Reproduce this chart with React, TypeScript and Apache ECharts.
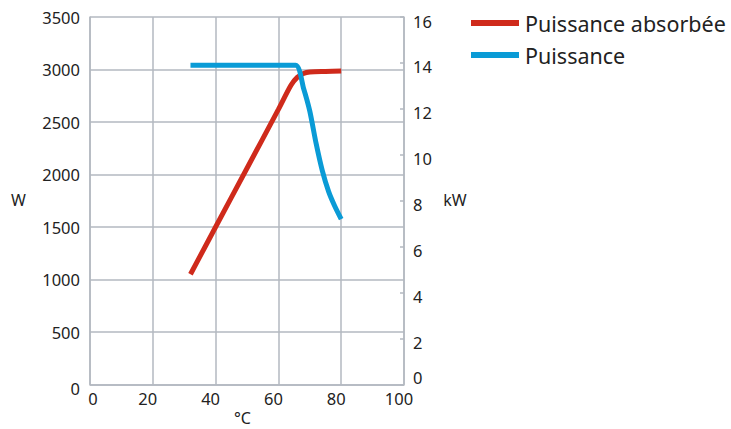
import React, { useEffect, useRef } from "react";
import * as echarts from "echarts";

const seriesNames = ["Puissance absorbée", "Puissance"];
// [°C, W]
const absorbedPower: [number, number][] = [
  [32, 1050], [40, 1500], [50, 2060], [60, 2620], [64, 2850], [66, 2925],
  [68, 2962], [70, 2976], [75, 2982], [80, 2986],
];
// [°C, kW]
const outputPower: [number, number][] = [
  [32, 13.9], [65.5, 13.9], [68, 12.9], [70, 11.9], [72, 10.5], [74, 9.3],
  [76, 8.4], [78, 7.75], [80, 7.2],
];
const xTicks = [0, 20, 40, 60, 80, 100];
const leftName = "W";
const rightName = "kW";
const xName = "°C";

const RED = "#cf2a1b";
const BLUE = "#0a9bd6";
const GRID = "#b3b8c0";
const TEXT = "#222222";
const FONT = "Noto Sans";

export default function App() {
  const ref = useRef<HTMLDivElement>(null);
  useEffect(() => {
    const chart = echarts.init(ref.current!, null, { renderer: "svg" });
    chart.setOption({
      animation: false,
      textStyle: { fontFamily: FONT },
      grid: { left: 90, top: 17, width: 314, height: 367.5 },
      legend: {
        orient: "vertical",
        left: 466,
        top: 7,
        itemWidth: 48,
        itemHeight: 6,
        itemGap: 10,
        icon: "rect",
        textStyle: { fontSize: 21.5, color: TEXT, fontFamily: FONT, padding: [0, 0, 0, 1] },
        data: seriesNames,
      },
      xAxis: {
        type: "value",
        min: xTicks[0],
        max: xTicks[xTicks.length - 1],
        interval: 20,
        axisLine: { show: true, lineStyle: { color: GRID, width: 1.5 } },
        axisTick: { show: false },
        splitLine: { show: true, lineStyle: { color: GRID, width: 1.5 } },
        axisLabel: {
          margin: 5,
          color: TEXT,
          fontSize: 16.5,
          fontFamily: FONT,
          formatter: (v: number) => (v === 0 ? `{a|${v}}` : `{b|${v}}`),
          rich: {
            a: { padding: [0, 0, 0, 6], fontSize: 16.5, fontFamily: FONT, color: TEXT },
            b: { padding: [0, 10, 0, 0], fontSize: 16.5, fontFamily: FONT, color: TEXT },
          },
        },
      },
      yAxis: [
        {
          type: "value",
          min: 0,
          max: 3500,
          interval: 500,
          position: "left",
          axisLine: { show: true, lineStyle: { color: GRID, width: 1.5 } },
          axisTick: { show: false },
          splitLine: { show: true, lineStyle: { color: GRID, width: 1.5 } },
          axisLabel: {
            margin: 10,
            color: TEXT,
            fontSize: 16.5,
            fontFamily: FONT,
            formatter: (v: number) => (v === 0 ? `{a|${v}}` : `${v}`),
            rich: { a: { padding: [8, 0, 0, 0], fontSize: 16.5, fontFamily: FONT, color: TEXT } },
          },
        },
        {
          type: "value",
          min: 0,
          max: 16,
          interval: 2,
          position: "right",
          axisLine: { show: true, lineStyle: { color: GRID, width: 1.5 } },
          axisTick: { show: true, inside: true, length: 4, lineStyle: { color: GRID, width: 1.5 } },
          splitLine: { show: false },
          axisLabel: {
            margin: 9,
            color: TEXT,
            fontSize: 16.5,
            fontFamily: FONT,
            formatter: (v: number) => (v === 0 ? `{a|${v}}` : `{b|${v}}`),
            rich: {
              a: { padding: [0, 0, 14, 0], fontSize: 16.5, fontFamily: FONT, color: TEXT },
              b: { padding: [8, 0, 0, 0], fontSize: 16.5, fontFamily: FONT, color: TEXT },
            },
          },
        },
      ],
      graphic: [
        { type: "text", x: 18.5, y: 200, style: { text: leftName, fill: TEXT, font: `16px ${FONT}`, align: "center", verticalAlign: "middle" } },
        { type: "text", x: 455, y: 200, style: { text: rightName, fill: TEXT, font: `16px ${FONT}`, align: "center", verticalAlign: "middle" } },
        { type: "text", x: 242.5, y: 418, style: { text: xName, fill: TEXT, font: `16px ${FONT}`, align: "center", verticalAlign: "middle" } },
      ],
      series: [
        {
          name: seriesNames[0],
          type: "line",
          yAxisIndex: 0,
          data: absorbedPower,
          showSymbol: false,
          smooth: 0.3,
          color: RED,
          lineStyle: { color: RED, width: 5 },
          z: 2,
        },
        {
          name: seriesNames[1],
          type: "line",
          yAxisIndex: 1,
          data: outputPower,
          showSymbol: false,
          smooth: 0.2,
          color: BLUE,
          lineStyle: { color: BLUE, width: 5 },
          z: 3,
        },
      ],
    });
    return () => chart.dispose();
  }, []);
  return <div ref={ref} style={{ position: "absolute", left: 0, top: 0, width: 731, height: 429 }} />;
}
